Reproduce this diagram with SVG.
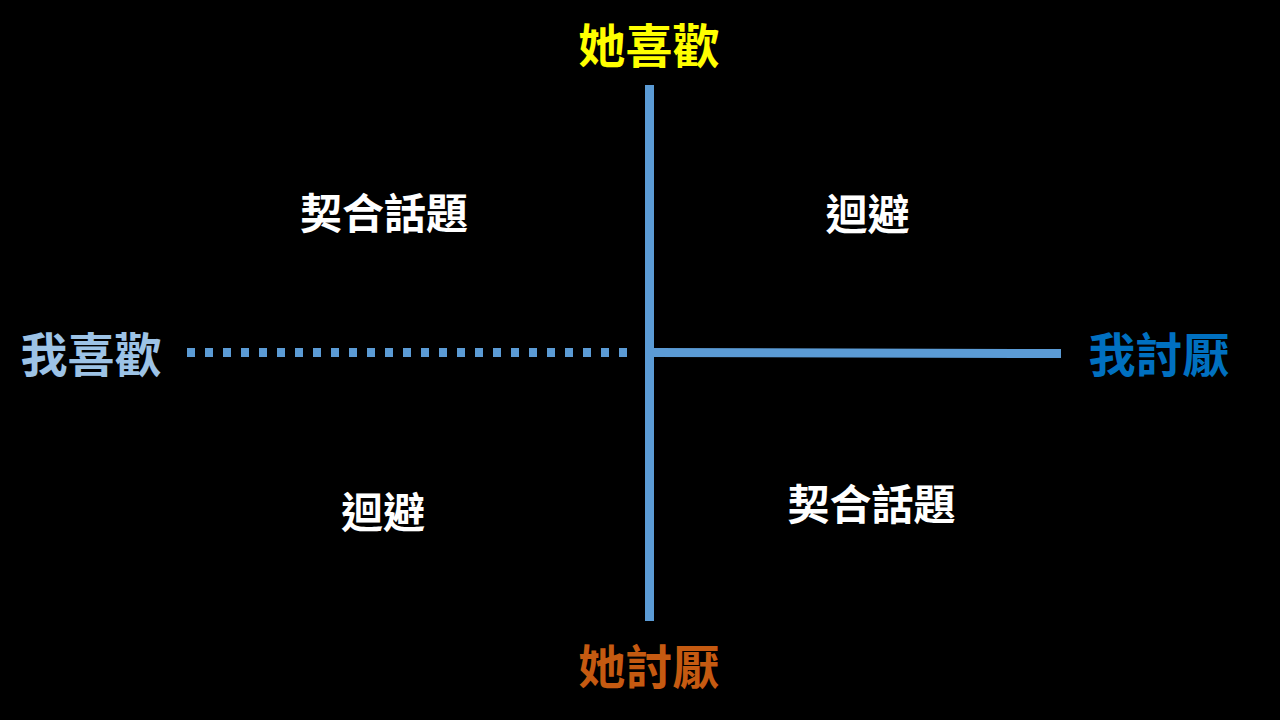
<svg xmlns="http://www.w3.org/2000/svg" width="1280" height="720" viewBox="0 0 1280 720">
<style>
text{font-family:"Noto Sans CJK TC","Noto Sans CJK SC",sans-serif;font-weight:bold;text-anchor:middle;dominant-baseline:central}
.axis{font-size:47px}
.q{font-size:42px;fill:#FFFFFF}
.ln{stroke:#5B9BD5;stroke-width:9;fill:none}
</style>
<rect width="1280" height="720" fill="#000000"/>
<g id="connectors">
<line class="ln" x1="649.5" y1="85" x2="649.5" y2="621"/>
<line class="ln" x1="654" y1="352.5" x2="1061" y2="353.5"/>
<line class="ln" x1="187" y1="352.5" x2="628" y2="352.5" stroke-width="8" stroke-dasharray="8 10"/>
</g>
<g id="top"><text class="axis" x="649" y="42" fill="#FFFF00">她喜歡</text></g>
<g id="bottom"><text class="axis" x="649" y="663" fill="#C55A11">她討厭</text></g>
<g id="left"><text class="axis" x="91" y="351" fill="#9DC3E6">我喜歡</text></g>
<g id="right"><text class="axis" x="1159" y="351" fill="#0070C0">我討厭</text></g>
<g id="q1"><text class="q" x="384" y="210">契合話題</text></g>
<g id="q2"><text class="q" x="867.5" y="211">迴避</text></g>
<g id="q3"><text class="q" x="383" y="509">迴避</text></g>
<g id="q4"><text class="q" x="871.5" y="501">契合話題</text></g>
</svg>
